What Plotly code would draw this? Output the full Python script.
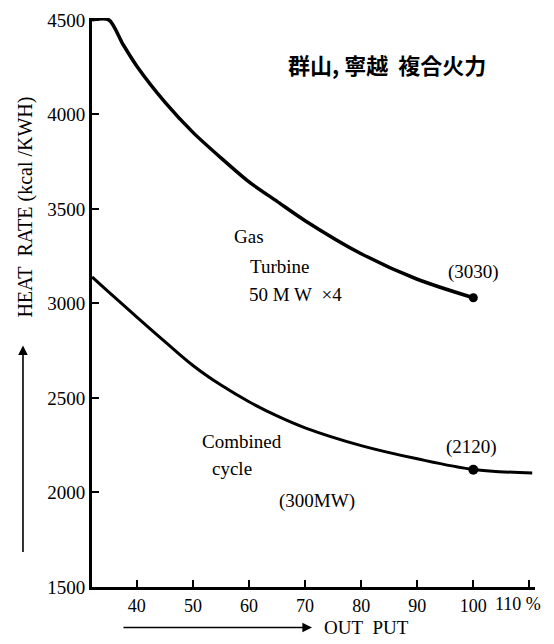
import plotly.graph_objects as go

# ---- data ----
gas_x = [32, 35, 37.5, 40, 45, 50, 55, 60, 65, 70, 80, 90, 100]
gas_y = [4500, 4500, 4372, 4255, 4065, 3905, 3770, 3643, 3540, 3438, 3263, 3128, 3030]
comb_x = [32, 35, 40, 45, 50, 55, 60, 65, 70, 80, 90, 100, 110.5]
comb_y = [3140, 3060, 2928, 2798, 2672, 2568, 2480, 2405, 2342, 2248, 2178, 2122, 2103]
point_x = [100]
gas_point_y = [3030]
comb_point_y = [2120]
x_ticks = [40, 50, 60, 70, 80, 90, 100, 110]
x_tick_text = ["40", "50", "60", "70", "80", "90", "100", " "]
y_ticks = [1500, 2000, 2500, 3000, 3500, 4000, 4500]
y_tick_text = ["1500", "2000", "2500", "3000", "3500", "4000", "4500"]

SERIF = "Liberation Serif, Times New Roman, serif"
CJK = "Noto Sans CJK JP"

fig = go.Figure()
fig.add_trace(go.Scatter(x=gas_x, y=gas_y, mode="lines",
                         line=dict(color="black", width=3.5, shape="spline", smoothing=0.8),
                         showlegend=False, hoverinfo="skip", cliponaxis=False))
fig.add_trace(go.Scatter(x=comb_x, y=comb_y, mode="lines",
                         line=dict(color="black", width=3, shape="spline", smoothing=1.0),
                         showlegend=False, hoverinfo="skip"))
fig.add_trace(go.Scatter(x=point_x, y=gas_point_y, mode="markers",
                         marker=dict(color="black", size=9), showlegend=False, hoverinfo="skip"))
fig.add_trace(go.Scatter(x=point_x, y=comb_point_y, mode="markers",
                         marker=dict(color="black", size=10), showlegend=False, hoverinfo="skip"))

ann = []
def txt(x, y, s, size=19, xanchor="left", font=SERIF, **kw):
    ann.append(dict(x=x, y=y, xref="x", yref="y", text=s, showarrow=False,
                    xanchor=xanchor, yanchor="middle",
                    font=dict(family=font, size=size, color="black"), **kw))

txt(84.6, 4265, "<b>群山,&nbsp;寧越&nbsp;&nbsp;複合火力</b>", size=22, xanchor="center", font=CJK)
txt(57.0, 3352, "Gas")
txt(59.8, 3195, "Turbine")
txt(59.6, 3049, "50 M W&nbsp;&nbsp;×4")
txt(100.1, 3169, "(3030)", xanchor="center")
txt(51.2, 2272, "Combined")
txt(53.0, 2126, "cycle")
txt(65.0, 1954, "(300MW)")
txt(99.6, 2241, "(2120)", xanchor="center")

# 110 % tick label
ann.append(dict(x=1.018, y=0, xref="paper", yref="paper", text="110&nbsp;%", showarrow=False,
                xanchor="right", yanchor="top", yshift=-5,
                font=dict(family=SERIF, size=18, color="black")))

# y-axis title and arrow
ann.append(dict(x=-0.151, y=0.667, xref="paper", yref="paper",
                text="HEAT&nbsp;&nbsp;RATE (kcal /KWH)", textangle=-90, showarrow=False,
                xanchor="center", yanchor="middle",
                font=dict(family=SERIF, size=20, color="black")))
ann.append(dict(x=-0.1558, y=0.4246, xref="paper", yref="paper", text="",
                showarrow=True, ax=0, ay=208,
                arrowhead=2, arrowsize=1.2, arrowwidth=1.6, arrowcolor="black"))
# x-axis title and arrow
ann.append(dict(x=0.4966, y=-0.0711, xref="paper", yref="paper", text="",
                showarrow=True, ax=-190, ay=0, arrowhead=2, arrowsize=1.2,
                arrowwidth=1.6, arrowcolor="black"))
ann.append(dict(x=0.5185, y=-0.0711, xref="paper", yref="paper",
                text="OUT&nbsp;&nbsp;PUT", showarrow=False, xanchor="left", yanchor="middle",
                font=dict(family=SERIF, size=19, color="black")))

# page body has an 8px margin: shrink figure so page coordinates match
fig.update_layout(
    width=546, height=636,
    margin=dict(l=84, r=19, t=2, b=57),
    paper_bgcolor="white", plot_bgcolor="white",
    annotations=ann,
    xaxis=dict(range=[32, 111], showgrid=False, zeroline=False,
               showline=True, linecolor="black", linewidth=3,
               ticks="inside", ticklen=7, tickwidth=2, tickcolor="black",
               tickvals=x_ticks, ticktext=x_tick_text, ticklabeloverflow="allow",
               tickfont=dict(family=SERIF, size=18, color="black")),
    yaxis=dict(range=[1500, 4510], showgrid=False, zeroline=False,
               showline=True, linecolor="black", linewidth=3,
               ticks="inside", ticklen=7, tickwidth=2, tickcolor="black",
               tickvals=y_ticks, ticktext=y_tick_text, ticklabeloverflow="allow",
               tickfont=dict(family=SERIF, size=19, color="black")),
)

fig.write_html("out.html")
